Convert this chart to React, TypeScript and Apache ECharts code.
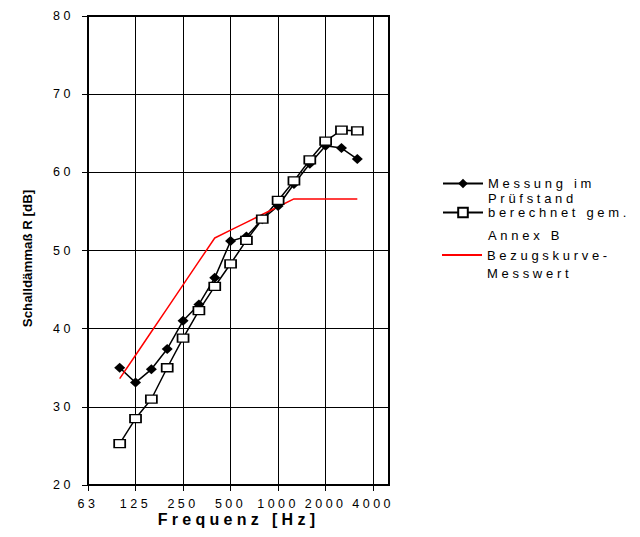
import React, { useEffect, useRef } from "react";
import * as echarts from "echarts";

// Third-octave axis categories (63 Hz .. 5000 Hz)
const categories = [
  "63", "80", "100", "125", "160", "200", "250", "315", "400", "500",
  "630", "800", "1000", "1250", "1600", "2000", "2500", "3150", "4000", "5000",
];

// Measured bands
const bands = [
  "100", "125", "160", "200", "250", "315", "400", "500",
  "630", "800", "1000", "1250", "1600", "2000", "2500", "3150",
];

const messung = [35.0, 33.1, 34.8, 37.4, 41.0, 43.1, 46.5, 51.2, 51.8, 54.0, 55.7, 58.5, 61.1, 63.4, 63.1, 61.7];
const berechnet = [25.3, 28.5, 31.0, 35.0, 38.8, 42.3, 45.4, 48.3, 51.3, 54.0, 56.4, 58.9, 61.6, 64.0, 65.4, 65.3];
const bezug = [33.6, 36.6, 39.6, 42.6, 45.6, 48.6, 51.6, 52.6, 53.6, 54.6, 55.6, 56.6, 56.6, 56.6, 56.6, 56.6];

const seriesNames = ["Messung im\nPrüfstand", "berechnet gem.\nAnnex B", "Bezugskurve-\nMesswert"];

const yMin = 20;
const yMax = 80;
const yStep = 10;

const xTitle = "Frequenz [Hz]";
const yTitle = "Schalldämmaß R [dB]";

const pairs = (vals: number[]) => bands.map((b, i) => [b, vals[i]]);

const TICK_FONT = "Liberation Sans, Arial";
const LEGEND_FONT = "Liberation Sans, Helvetica";
const XTITLE_FONT = "Liberation Sans, Verdana";

function legendFor(name: string, top: number, lh: number, extra: any = {}) {
  return {
    data: [name],
    left: 442,
    top,
    orient: "vertical",
    padding: 0,
    itemWidth: 40,
    itemHeight: 12,
    selectedMode: false,
    formatter: (n: string) => "\n" + n,
    textStyle: {
      color: "#000",
      fontSize: 13,
      fontFamily: LEGEND_FONT,
      lineHeight: lh,
    },
    ...extra,
  };
}

export default function App() {
  const ref = useRef<HTMLDivElement>(null);

  useEffect(() => {
    if (!ref.current) return;
    const chart = echarts.init(ref.current, null, { renderer: "svg" });
    chart.setOption({
      animation: false,
      backgroundColor: "#fff",
      grid: {
        left: 88,
        right: 251,
        top: 16,
        bottom: 52,
        show: true,
        borderColor: "#000",
        borderWidth: 2,
        containLabel: false,
        outerBoundsMode: "none",
      },
      legend: [
        legendFor(seriesNames[0], 161, 15),
        legendFor(seriesNames[1], 178, 23),
        legendFor(seriesNames[2], 228, 18, { icon: "rect", itemHeight: 2 }),
      ],
      xAxis: {
        type: "category",
        data: categories,
        boundaryGap: false,
        axisLine: { lineStyle: { color: "#000", width: 2 } },
        axisTick: { interval: 2, length: 6, lineStyle: { color: "#000", width: 1 } },
        axisLabel: {
          interval: 2,
          margin: 12,
          color: "#000",
          fontSize: 12.5,
          fontFamily: TICK_FONT,
        },
        splitLine: { show: true, interval: 2, lineStyle: { color: "#000", width: 1 } },
        name: xTitle,
        nameLocation: "middle",
        nameGap: 26,
        nameMoveOverlap: false,
        nameTextStyle: {
          color: "#000",
          fontWeight: "bold",
          fontSize: 16,
          fontFamily: XTITLE_FONT,
        },
      },
      yAxis: {
        type: "value",
        min: yMin,
        max: yMax,
        interval: yStep,
        axisLine: { show: true, lineStyle: { color: "#000", width: 2 } },
        axisTick: { show: true, length: 6, lineStyle: { color: "#000", width: 1 } },
        axisLabel: { margin: 14, color: "#000", fontSize: 12.5, fontFamily: TICK_FONT },
        splitLine: { show: true, lineStyle: { color: "#000", width: 1 } },
        name: yTitle,
        nameLocation: "middle",
        nameRotate: 90,
        nameGap: 54,
        nameMoveOverlap: false,
        nameTextStyle: {
          color: "#000",
          fontWeight: "bold",
          fontSize: 13.3,
          fontFamily: "Liberation Sans",
          padding: [0, 16, 0, 0],
        },
      },
      series: [
        {
          name: seriesNames[0],
          type: "line",
          data: pairs(messung),
          symbol: "diamond",
          symbolSize: [11, 10],
          lineStyle: { color: "#000", width: 1.5 },
          itemStyle: { color: "#000" },
          emphasis: { disabled: true },
        },
        {
          name: seriesNames[1],
          type: "line",
          data: pairs(berechnet),
          symbol: "rect",
          symbolSize: [11, 8],
          lineStyle: { color: "#000", width: 1.5 },
          itemStyle: { color: "#fff", borderColor: "#000", borderWidth: 1.5 },
          emphasis: { disabled: true },
        },
        {
          name: seriesNames[2],
          type: "line",
          data: pairs(bezug),
          symbol: "none",
          lineStyle: { color: "#ff0000", width: 1.5 },
          itemStyle: { color: "#ff0000" },
          emphasis: { disabled: true },
        },
      ],
    });
    return () => chart.dispose();
  }, []);

  return (
    <>
      <style>{`
        #chart text[style*="Arial"] { letter-spacing: 3.5px; }
        #chart text[style*="Helvetica"] { letter-spacing: 3.7px; }
        #chart text[style*="Verdana"] { letter-spacing: 4.3px; }
      `}</style>
      <div
        id="chart"
        ref={ref}
        style={{ position: "absolute", left: 0, top: 0, width: 640, height: 537 }}
      />
    </>
  );
}
